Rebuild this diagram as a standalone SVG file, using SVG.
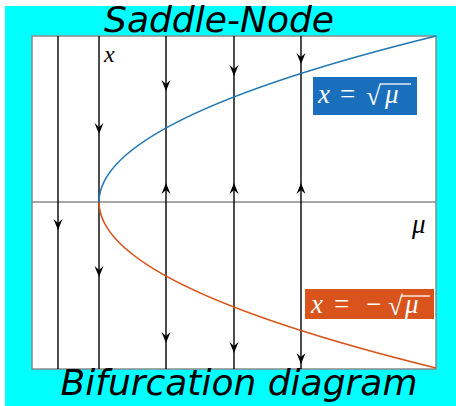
<svg xmlns="http://www.w3.org/2000/svg" width="456" height="406" viewBox="0 0 456 406">
<style>
.title{font-family:"DejaVu Sans","Noto Sans",sans-serif;font-style:oblique;font-size:36px;fill:#000}
.math{font-family:"Liberation Serif","DejaVu Serif",serif;font-style:italic;font-size:27px}
.lab{font-family:"Liberation Serif","DejaVu Serif",serif;font-style:italic;font-size:24px}
.up{font-family:"Liberation Serif","DejaVu Serif",serif;font-size:27px}
.fl{stroke:#000;stroke-width:1.4;fill:none}
.ax{stroke:#8a8a8a;stroke-width:1.5;fill:none}
.w{fill:#fff}
</style>
<defs>
<path id="ad" d="M0,0 L-4.5,-11 L0,-7 L4.5,-11 Z" fill="#000"/>
<path id="au" d="M0,0 L-4.5,11 L0,7 L4.5,11 Z" fill="#000"/>
</defs>
<rect x="0" y="0" width="456" height="406" fill="#fff"/>
<rect x="5" y="6" width="451" height="400" fill="#00ffff"/>
<g id="plot">
<rect x="32" y="36" width="404" height="333" fill="#fff" stroke="#8a8a8a" stroke-width="1.5"/>
<line class="ax" x1="32" y1="202" x2="436" y2="202"/>
</g>
<g id="connectors">
<line class="fl" x1="58" y1="36" x2="58" y2="369" stroke="#444"/>
<line class="fl" x1="99" y1="36" x2="99" y2="369"/>
<line class="fl" x1="166" y1="36" x2="166" y2="369"/>
<line class="fl" x1="234" y1="36" x2="234" y2="369"/>
<line class="fl" x1="301" y1="36" x2="301" y2="369"/>
<use href="#ad" x="58" y="230"/>
<use href="#ad" x="99" y="134"/>
<use href="#ad" x="99" y="277"/>
<use href="#ad" x="166" y="91"/>
<use href="#au" x="166" y="183"/>
<use href="#ad" x="166" y="343"/>
<use href="#ad" x="234" y="76"/>
<use href="#au" x="234" y="183"/>
<use href="#ad" x="234" y="353"/>
<use href="#ad" x="301" y="64"/>
<use href="#au" x="301" y="183"/>
<use href="#ad" x="301" y="364"/>
</g>
<g id="curve-stable">
<path d="M99,202 Q99,119 436,36" fill="none" stroke="#1f77b4" stroke-width="1.6"/>
</g>
<g id="curve-unstable">
<path d="M99,202 Q99,285 436,368" fill="none" stroke="#d95319" stroke-width="1.6"/>
</g>
<g id="axis-labels">
<text class="lab" x="104" y="62">x</text>
<text class="math" x="412" y="233">μ</text>
</g>
<g id="label-sqrt">
<rect x="313" y="77" width="104" height="38" fill="#1a6fbd"/>
<text class="math w" x="318" y="103">x</text>
<text class="up w" x="340" y="103">=</text>
<text class="up w" x="366" y="105">√</text>
<text class="math w" x="385" y="103">μ</text>
<line x1="380" y1="84" x2="411" y2="84" stroke="#fff" stroke-width="1.3"/>
</g>
<g id="label-negsqrt">
<rect x="305" y="289" width="129" height="30" fill="#d9541c"/>
<text class="math w" x="311" y="313">x</text>
<text class="up w" x="334" y="313">=</text>
<text class="up w" x="366" y="313">−</text>
<text class="up w" x="388" y="315">√</text>
<text class="math w" x="405" y="313">μ</text>
<line x1="402" y1="296" x2="430" y2="296" stroke="#fff" stroke-width="1.3"/>
</g>
<g id="titles">
<text class="title" x="104" y="32" font-size="32" textLength="230" lengthAdjust="spacingAndGlyphs">Saddle-Node</text>
<text class="title" x="239" y="395" text-anchor="middle" font-size="38">Bifurcation diagram</text>
</g>
</svg>
